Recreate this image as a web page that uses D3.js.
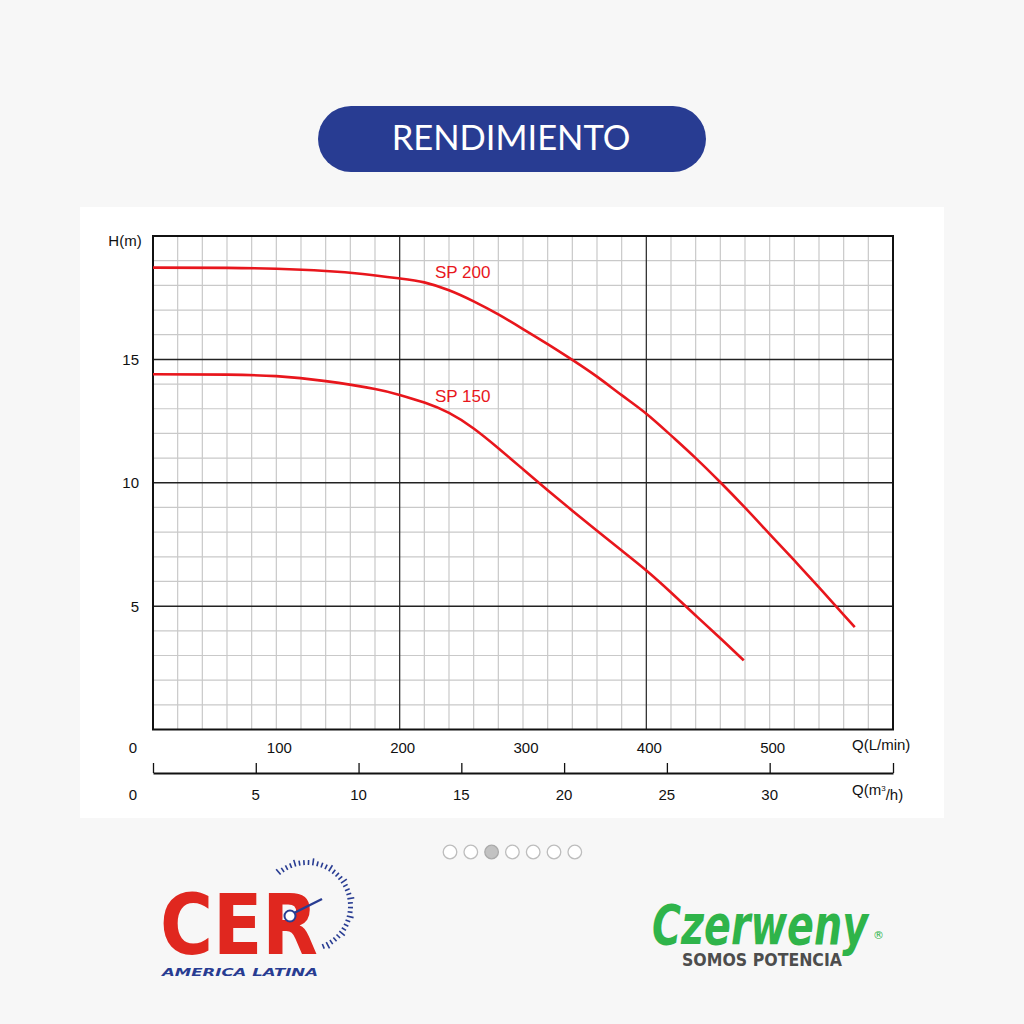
<!DOCTYPE html>
<html><head><meta charset="utf-8">
<script src="https://cdn.jsdelivr.net/npm/d3@7"></script>
<style>
html,body{margin:0;padding:0;background:#f7f7f7;}
svg{display:block;}
</style></head>
<body>
<svg id="c" width="1024" height="1024"></svg>
<script>
// ---- data ----
const title = "RENDIMIENTO";
const sp200Q = [0, 60, 100, 140, 170, 200, 220, 240, 260, 280, 300, 320, 340, 360, 380, 400, 420, 440, 460, 480, 500, 520, 540, 560, 569];
const sp200H = [18.72, 18.71, 18.67, 18.58, 18.46, 18.28, 18.12, 17.8, 17.35, 16.82, 16.23, 15.62, 14.98, 14.3, 13.55, 12.8, 11.92, 11.0, 10.02, 8.99, 7.92, 6.85, 5.76, 4.65, 4.15];
const sp150Q = [0, 60, 100, 140, 180, 200, 220, 240, 260, 280, 300, 320, 340, 360, 380, 400, 420, 440, 460, 479];
const sp150H = [14.40, 14.38, 14.32, 14.12, 13.8, 13.56, 13.25, 12.83, 12.2, 11.4, 10.55, 9.7, 8.87, 8.05, 7.25, 6.44, 5.55, 4.62, 3.7, 2.8];
const seriesNames = ["SP 200", "SP 150"];
const yTicks = [5, 10, 15];
const lminTicks = [100, 200, 300, 400, 500];
const m3hTicks = [5, 10, 15, 20, 25, 30];
const pageDots = [0, 1, 2, 3, 4, 5, 6];
const activeDot = 2;

const svg = d3.select("#c");
svg.append("rect").attr("width",1024).attr("height",1024).attr("fill","#f7f7f7");

// title pill
svg.append("rect").attr("x",318).attr("y",106).attr("width",388).attr("height",66)
  .attr("rx",33).attr("fill","#283c92");
svg.append("text").attr("x",511).attr("y",138).attr("dy","0.36em").attr("text-anchor","middle")
  .attr("font-family","Lato, 'Open Sans', sans-serif").attr("font-size",34.5).attr("fill","#fff")
  .text(title);

// card
svg.append("rect").attr("x",80).attr("y",207).attr("width",864).attr("height",611).attr("fill","#fff");

const x = d3.scaleLinear().domain([0,600]).range([153,893]);
const y = d3.scaleLinear().domain([0,20]).range([729.5,236]);
const xm = d3.scaleLinear().domain([0,36]).range([153,893]);
const font = "'Liberation Sans', Arial, sans-serif";

const g = svg.append("g");
// minor grid
g.selectAll("line.vx").data(d3.range(20,600,20).filter(v=>v%200)).join("line")
  .attr("x1",d=>x(d)).attr("x2",d=>x(d)).attr("y1",y(20)).attr("y2",y(0))
  .attr("stroke","#c9c9c9").attr("stroke-width",1.2);
g.selectAll("line.hy").data(d3.range(1,20).filter(v=>v%5)).join("line")
  .attr("x1",x(0)).attr("x2",x(600)).attr("y1",d=>y(d)).attr("y2",d=>y(d))
  .attr("stroke","#c9c9c9").attr("stroke-width",1.2);
// major grid
g.selectAll("line.mx").data([200,400]).join("line")
  .attr("x1",d=>x(d)).attr("x2",d=>x(d)).attr("y1",y(20)).attr("y2",y(0))
  .attr("stroke","#333").attr("stroke-width",1.3);
g.selectAll("line.my").data(yTicks).join("line")
  .attr("x1",x(0)).attr("x2",x(600)).attr("y1",d=>y(d)).attr("y2",d=>y(d))
  .attr("stroke","#222").attr("stroke-width",1.5);
// frame
g.append("rect").attr("x",x(0)).attr("y",y(20)).attr("width",x(600)-x(0)).attr("height",y(0)-y(20))
  .attr("fill","none").attr("stroke","#111").attr("stroke-width",2);

// y labels
svg.selectAll("text.yl").data(yTicks).join("text")
  .attr("x",139).attr("y",d=>y(d)).attr("dy","0.36em").attr("text-anchor","end")
  .attr("font-family",font).attr("font-size",15).attr("fill","#111").text(d=>d);
svg.append("text").attr("x",125).attr("y",241).attr("dy","0.36em").attr("text-anchor","middle")
  .attr("font-family",font).attr("font-size",15).attr("fill","#111").text("H(m)");

// L/min labels
svg.selectAll("text.xl").data(lminTicks).join("text")
  .attr("x",d=>x(d)+3).attr("y",748).attr("dy","0.36em").attr("text-anchor","middle")
  .attr("font-family",font).attr("font-size",15).attr("fill","#111").text(d=>d);
svg.append("text").attr("x",133).attr("y",748).attr("dy","0.36em").attr("text-anchor","middle")
  .attr("font-family",font).attr("font-size",15).attr("fill","#111").text("0");
svg.append("text").attr("x",852).attr("y",745).attr("dy","0.36em")
  .attr("font-family",font).attr("font-size",15).attr("fill","#111").text("Q(L/min)");

// m3/h axis
const ax = svg.append("g").attr("transform","translate(0,773)")
  .call(d3.axisTop(xm).tickValues([0,...m3hTicks,36]).tickSize(10).tickSizeOuter(0).tickFormat(""));
ax.select(".domain").attr("stroke","#111").attr("stroke-width",2);
ax.selectAll(".tick line").attr("stroke","#111").attr("stroke-width",1.3);
svg.selectAll("text.ml").data(m3hTicks).join("text")
  .attr("x",d=>xm(d)).attr("y",795).attr("dy","0.36em").attr("text-anchor","middle")
  .attr("font-family",font).attr("font-size",15).attr("fill","#111").text(d=>d);
svg.append("text").attr("x",133).attr("y",795).attr("dy","0.36em").attr("text-anchor","middle")
  .attr("font-family",font).attr("font-size",15).attr("fill","#111").text("0");
const ql = svg.append("text").attr("x",852).attr("y",790).attr("dy","0.36em")
  .attr("font-family",font).attr("font-size",15).attr("fill","#111");
ql.append("tspan").text("Q(m");
ql.append("tspan").attr("font-size",8).attr("dy","-0.6em").text("3");
ql.append("tspan").attr("dy","0.6em").text("/h)");

// curves
const line = d3.line().x(d=>x(d[0])).y(d=>y(d[1])).curve(d3.curveNatural);
const curves = [d3.zip(sp200Q, sp200H), d3.zip(sp150Q, sp150H)];
svg.selectAll("path.curve").data(curves).join("path")
  .attr("d",line).attr("fill","none").attr("stroke","#e8161c").attr("stroke-width",2.6);
svg.selectAll("text.sn").data(seriesNames).join("text")
  .attr("x",435).attr("y",(d,i)=>[271.5,395.5][i]).attr("dy","0.36em")
  .attr("font-family",font).attr("font-size",17).attr("fill","#e8161c").text(d=>d);

// page dots
svg.selectAll("circle.pd").data(pageDots).join("circle")
  .attr("cx",d=>450+d*20.8).attr("cy",852).attr("r",6.8)
  .attr("fill",d=>d===activeDot?"#c2c2c2":"#fff")
  .attr("stroke",d=>d===activeDot?"#aaa":"#bdbdbd").attr("stroke-width",1.3);

// CER logo
const cer = svg.append("g");
cer.append("text").attr("x",160).attr("y",954)
  .attr("font-family","'DejaVu Sans', sans-serif").attr("font-weight","bold").attr("font-size",84)
  .attr("textLength",158).attr("lengthAdjust","spacingAndGlyphs").attr("fill","#e0271f")
  .text("CER");
cer.append("text").attr("x",162).attr("y",976)
  .attr("font-family","'DejaVu Sans', sans-serif").attr("font-weight","bold").attr("font-style","italic")
  .attr("font-size",10).attr("textLength",156).attr("lengthAdjust","spacingAndGlyphs").attr("fill","#283c92")
  .text("AMERICA LATINA");
const gc = [307,906];
const arcTicks = d3.range(-40,160,6);
cer.selectAll("line.gt").data(arcTicks).join("line")
  .each(function(a,i){
    const r = a*Math.PI/180, r1 = 41, r2 = i%4===0?48:46;
    d3.select(this).attr("x1",gc[0]+r1*Math.sin(r)).attr("y1",gc[1]-r1*Math.cos(r))
      .attr("x2",gc[0]+r2*Math.sin(r)).attr("y2",gc[1]-r2*Math.cos(r));
  }).attr("stroke","#283c92").attr("stroke-width",1.6);
cer.append("line").attr("x1",294).attr("y1",913).attr("x2",322).attr("y2",899)
  .attr("stroke","#283c92").attr("stroke-width",2.5);
cer.append("circle").attr("cx",290).attr("cy",916).attr("r",5.5).attr("fill","#fff")
  .attr("stroke","#283c92").attr("stroke-width",2);

// Czerweny logo
const cz = svg.append("g");
cz.append("text").attr("x",652).attr("y",944)
  .attr("font-family","'DejaVu Sans', sans-serif").attr("font-weight","bold").attr("font-style","italic")
  .attr("font-size",56).attr("textLength",216).attr("lengthAdjust","spacingAndGlyphs").attr("fill","#2fb44a")
  .text("Czerweny");
cz.append("text").attr("x",873).attr("y",939)
  .attr("font-family","'DejaVu Sans', sans-serif").attr("font-size",11).attr("fill","#2fb44a").text("®");
cz.append("text").attr("x",682).attr("y",966)
  .attr("font-family","'DejaVu Sans', sans-serif").attr("font-weight","bold")
  .attr("font-size",17).attr("textLength",160).attr("lengthAdjust","spacingAndGlyphs").attr("fill","#4d4d4d")
  .text("SOMOS POTENCIA");
</script>
</body></html>
